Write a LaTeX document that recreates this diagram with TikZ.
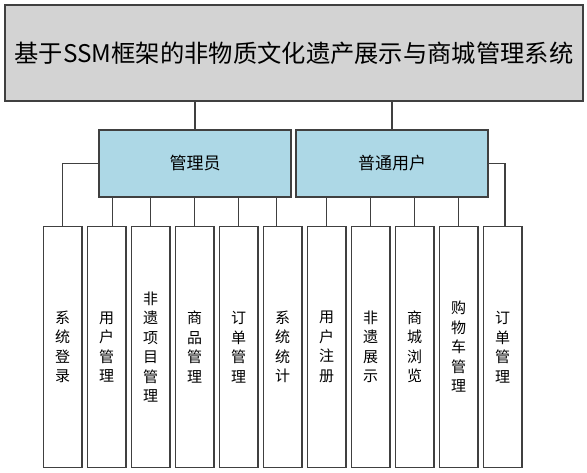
\documentclass[tikz,border=0pt]{standalone}
\usepackage{fontspec}
\setmainfont{Noto Sans CJK SC}
\definecolor{boxline}{HTML}{404040}
\definecolor{titlegray}{HTML}{D3D3D3}
\definecolor{roleblue}{HTML}{ADD8E6}
\begin{document}
\begin{tikzpicture}[x=1pt,y=-1pt,
  box/.style={draw=boxline, line width=1.2pt, inner sep=0pt, outer sep=0pt},
  titlebox/.style={box, fill=titlegray, minimum width=578pt, minimum height=96pt, font=\fontsize{24.3}{24.3}\selectfont},
  rolebox/.style={box, fill=roleblue, minimum width=192pt, minimum height=67pt, font=\fontsize{17}{17}\selectfont},
  childbox/.style={box, fill=white, minimum width=38.7pt, minimum height=240.6pt, align=center, text width=38.7pt, font=\fontsize{15}{19.5}\selectfont},
  conn/.style={draw=boxline, line width=1.2pt}]
\useasboundingbox (0,0) rectangle (587,473);
\node[titlebox] (top) at (294,53) {基于SSM框架的非物质文化遗产展示与商城管理系统};
\node[rolebox] (mgr) at (195,163.5) {管理员};
\node[rolebox] (usr) at (392,163.5) {普通用户};
\foreach \i/\t in {1/{系\\统\\登\\录},2/{用\\户\\管\\理},3/{非\\遗\\项\\目\\管\\理},4/{商\\品\\管\\理},5/{订\\单\\管\\理},6/{系\\统\\统\\计},7/{用\\户\\注\\册},8/{非\\遗\\展\\示},9/{商\\城\\浏\\览},10/{购\\物\\车\\管\\理},11/{订\\单\\管\\理}}
  \node[childbox] (c\i) at ({62.7+44*(\i-1)},347) {\t};
\draw[conn] (top.south -| mgr.north) -- (mgr.north);
\draw[conn] (top.south -| usr.north) -- (usr.north);
\draw[conn] (mgr.west) -| (c1.north);
\draw[conn] (usr.east) -| ([xshift=2.3pt]c11.north);
\draw[conn] ([xshift=6pt]c2.north) -- ([xshift=6pt]c2.north |- mgr.south);
\foreach \i in {3,4,5,7,8,9,10}
  \draw[conn] (c\i.north) -- (c\i.north |- mgr.south);
\draw[conn] ([xshift=-6pt]c6.north) -- ([xshift=-6pt]c6.north |- mgr.south);
\end{tikzpicture}
\end{document}
